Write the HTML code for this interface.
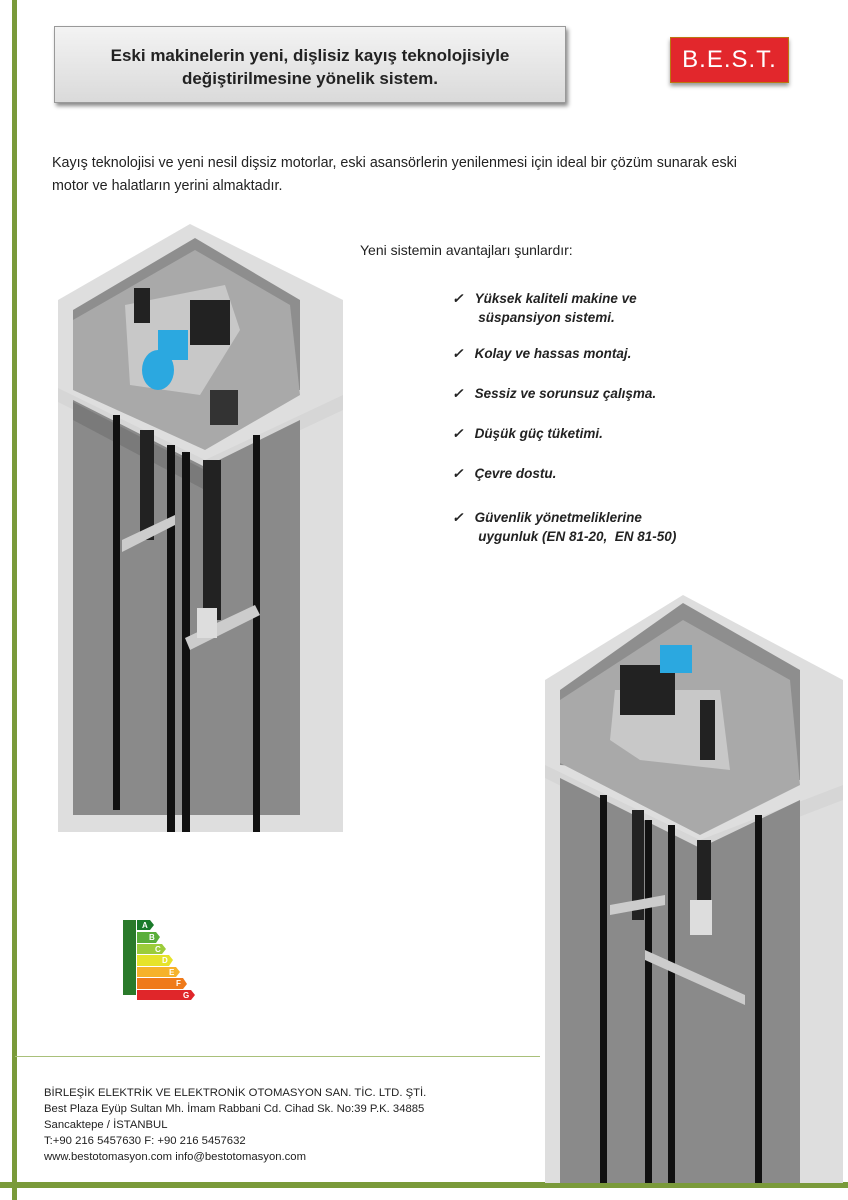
<!DOCTYPE html>
<html><head><meta charset="utf-8"><style>
body{margin:0;width:848px;height:1200px;position:relative;background:#fff;font-family:"Liberation Sans",sans-serif;overflow:hidden}
.t{position:absolute;color:#222;white-space:nowrap}
.b{font-family:"Liberation Sans Narrow","Liberation Sans",sans-serif}
</style></head><body>
<div style="position:absolute;left:12px;top:0;width:5px;height:1200px;background:#7a9a3a"></div>
<div style="position:absolute;left:0;top:1182px;width:848px;height:6px;background:#7a9a3a"></div>
<div style="position:absolute;left:15px;top:1056px;width:525px;height:1px;background:#a9c07a"></div>
<div style="position:absolute;left:54px;top:26px;width:510px;height:75px;background:linear-gradient(#f3f3f3,#dadada);border:1px solid #999;box-shadow:2px 3px 4px #888"></div>
<div class="t b" style="left:54px;top:44px;width:512px;text-align:center;font-weight:bold;font-size:17px;line-height:23px">Eski makinelerin yeni, dişlisiz kayış teknolojisiyle<br>değiştirilmesine yönelik sistem.</div>
<div style="position:absolute;left:670px;top:37px;width:117px;height:44px;background:#e2272c;border:1px solid #b71;box-shadow:0 3px 4px #999;color:#fff;font-size:24px;text-align:center;line-height:44px;letter-spacing:1px">B.E.S.T.</div>
<div class="t b" style="left:52px;top:152px;font-size:14.3px;line-height:23px;color:#222">Kayış teknolojisi ve yeni nesil dişsiz motorlar, eski asansörlerin yenilenmesi için ideal bir çözüm sunarak eski<br>motor ve halatların yerini almaktadır.</div>
<div class="t b" style="left:360px;top:242px;font-size:14px">Yeni sistemin avantajları şunlardır:</div>
<div class="t b" style="left:452px;top:289px;font-size:13.5px;font-weight:bold;font-style:italic;line-height:19px">✓&nbsp;&nbsp;&nbsp;Yüksek kaliteli makine ve<br>&nbsp;&nbsp;&nbsp;&nbsp;&nbsp;&nbsp;&nbsp;süspansiyon sistemi.</div>
<div class="t b" style="left:452px;top:346px;font-size:13.5px;font-weight:bold;font-style:italic">✓&nbsp;&nbsp;&nbsp;Kolay ve hassas montaj.</div>
<div class="t b" style="left:452px;top:386px;font-size:13.5px;font-weight:bold;font-style:italic">✓&nbsp;&nbsp;&nbsp;Sessiz ve sorunsuz çalışma.</div>
<div class="t b" style="left:452px;top:426px;font-size:13.5px;font-weight:bold;font-style:italic">✓&nbsp;&nbsp;&nbsp;Düşük güç tüketimi.</div>
<div class="t b" style="left:452px;top:466px;font-size:13.5px;font-weight:bold;font-style:italic">✓&nbsp;&nbsp;&nbsp;Çevre dostu.</div>
<div class="t b" style="left:452px;top:508px;font-size:13.5px;font-weight:bold;font-style:italic;line-height:19px">✓&nbsp;&nbsp;&nbsp;Güvenlik yönetmeliklerine<br>&nbsp;&nbsp;&nbsp;&nbsp;&nbsp;&nbsp;&nbsp;uygunluk (EN 81-20,&nbsp; EN 81-50)</div>

<svg style="position:absolute;left:0;top:0" width="848" height="1200">
<polygon points="58,300 190,224 343,300 343,832 58,832" fill="#dedede"/>
<polygon points="73,310 195,238 300,300 300,390 73,390" fill="#8e8e8e"/>
<polygon points="73,390 73,320 195,250 290,305 300,395 205,450" fill="#a9a9a9"/>
<polygon points="58,388 205,460 343,395 343,410 205,475 58,402" fill="#d6d6d6"/>
<polygon points="73,400 205,467 300,420 300,815 73,815" fill="#8a8a8a"/>
<polygon points="73,402 205,470 205,490 73,420" fill="#7a7a7a"/>
<rect x="113" y="415" width="7" height="395" fill="#111"/>
<rect x="167" y="445" width="8" height="387" fill="#111"/>
<rect x="182" y="452" width="8" height="380" fill="#111"/>
<rect x="253" y="435" width="7" height="397" fill="#111"/>
<rect x="140" y="430" width="14" height="110" fill="#222"/>
<rect x="203" y="460" width="18" height="160" fill="#222"/>
<polygon points="122,540 175,515 175,525 122,552" fill="#ccc"/>
<polygon points="185,638 255,605 260,615 190,650" fill="#ccc"/>
<rect x="197" y="608" width="20" height="30" fill="#ddd"/>
<polygon points="125,305 225,285 240,330 200,395 130,385" fill="#c8c8c8"/>
<rect x="190" y="300" width="40" height="45" fill="#222"/>
<ellipse cx="158" cy="370" rx="16" ry="20" fill="#2ba8e0"/>
<rect x="158" y="330" width="30" height="30" fill="#2ba8e0"/>
<rect x="134" y="288" width="16" height="35" fill="#222"/>
<rect x="210" y="390" width="28" height="35" fill="#333"/>
<polygon points="545,680 683,595 843,680 843,1183 545,1183" fill="#dedede"/>
<polygon points="560,690 683,603 800,670 800,780 560,765" fill="#8e8e8e"/>
<polygon points="560,763 560,700 683,620 790,680 800,785 700,835" fill="#a9a9a9"/>
<polygon points="545,765 700,840 843,785 843,800 700,855 545,778" fill="#d6d6d6"/>
<polygon points="560,778 700,848 800,800 800,1183 560,1183" fill="#8a8a8a"/>
<rect x="600" y="795" width="7" height="388" fill="#111"/>
<rect x="645" y="820" width="7" height="363" fill="#111"/>
<rect x="668" y="825" width="7" height="358" fill="#111"/>
<rect x="755" y="815" width="7" height="368" fill="#111"/>
<rect x="632" y="810" width="12" height="110" fill="#222"/>
<rect x="697" y="840" width="14" height="90" fill="#222"/>
<polygon points="645,950 745,995 745,1005 645,960" fill="#ccc"/>
<polygon points="610,905 665,895 665,905 610,915" fill="#ccc"/>
<rect x="690" y="900" width="22" height="35" fill="#ddd"/>
<polygon points="615,690 720,690 730,770 640,760 610,740" fill="#c8c8c8"/>
<rect x="620" y="665" width="55" height="50" fill="#222"/>
<rect x="660" y="645" width="32" height="28" fill="#2ba8e0"/>
<rect x="700" y="700" width="15" height="60" fill="#222"/>
<rect x="123" y="920" width="13" height="75" fill="#2a7a2a"/>
<g font-family="Liberation Sans" font-size="8" font-weight="bold" fill="#fff">
<polygon points="137,920 150,920 154,925 150,930 137,930" fill="#1a7a2a"/>
<polygon points="137,932 156,932 160,937 156,943 137,943" fill="#5aae3a"/>
<polygon points="137,944 162,944 166,949 162,954 137,954" fill="#9ccc3a"/>
<polygon points="137,955 169,955 173,960 169,966 137,966" fill="#e6e32a"/>
<polygon points="137,967 176,967 180,972 176,977 137,977" fill="#f6b22a"/>
<polygon points="137,978 183,978 187,984 183,989 137,989" fill="#ef7a1a"/>
<polygon points="137,990 191,990 195,995 191,1000 137,1000" fill="#e0262a"/>
<text x="142" y="928">A</text><text x="149" y="940">B</text><text x="155" y="952">C</text><text x="162" y="963">D</text><text x="169" y="975">E</text><text x="176" y="986">F</text><text x="183" y="998">G</text>
</g>
</svg>

<div class="t" style="left:44px;top:1085px;font-size:11.3px;line-height:16px;color:#222">BİRLEŞİK ELEKTRİK VE ELEKTRONİK OTOMASYON SAN. TİC. LTD. ŞTİ.<br>Best Plaza Eyüp Sultan Mh. İmam Rabbani Cd. Cihad Sk. No:39 P.K. 34885<br>Sancaktepe / İSTANBUL<br>T:+90 216 5457630 F: +90 216 5457632<br>www.bestotomasyon.com info@bestotomasyon.com</div>
</body></html>
